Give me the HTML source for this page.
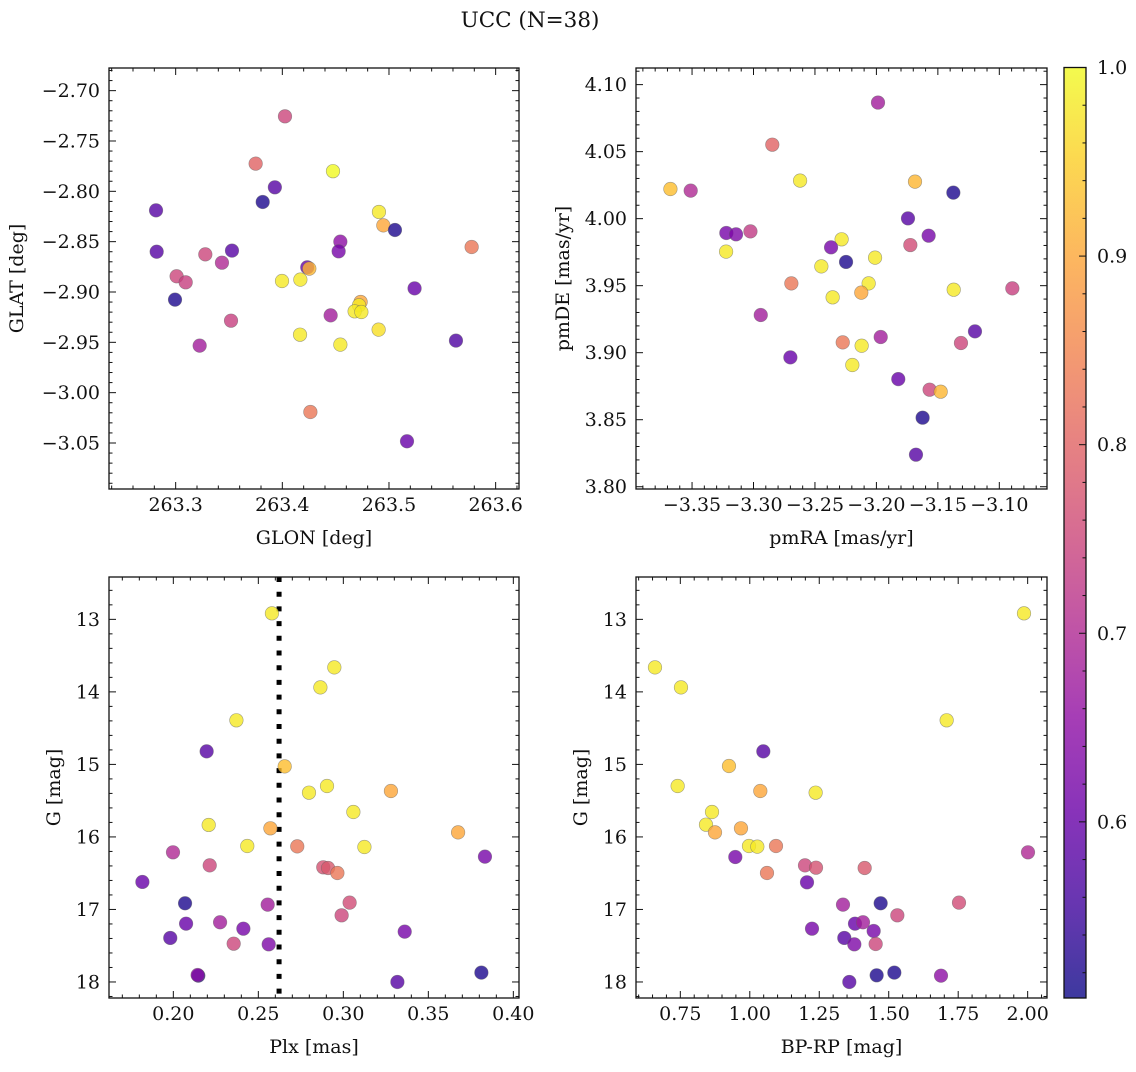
<!DOCTYPE html>
<html><head><meta charset="utf-8"><style>
html,body{margin:0;padding:0;background:#fff;}
svg text{font-family:"DejaVu Serif","Liberation Serif",serif;fill:#111;}
</style></head><body>
<svg id="fig" width="1136" height="1067" viewBox="0 0 1136 1067" xmlns="http://www.w3.org/2000/svg">
<rect width="1136" height="1067" fill="#fff"/>
<text x="530" y="27" font-size="21.5" text-anchor="middle">UCC (N=38)</text>
</svg>
<script>
// Panel 1: GLON vs GLAT
const glon=[263.4025,263.375,263.4475,263.393,263.3816,263.2816,263.4906,263.4947,263.5056,263.5775,263.4544,263.4528,263.2822,263.3278,263.3528,263.3434,263.3009,263.3094,263.2994,263.4234,263.4253,263.3997,263.4169,263.524,263.4734,263.4719,263.4678,263.4741,263.4453,263.3519,263.4903,263.4166,263.3225,263.4544,263.5628,263.4263,263.5169];
const glat=[-2.7255,-2.7725,-2.780,-2.796,-2.8106,-2.8189,-2.8205,-2.8338,-2.8384,-2.8553,-2.850,-2.8596,-2.860,-2.8626,-2.8589,-2.8709,-2.8844,-2.8904,-2.9076,-2.8755,-2.8768,-2.8891,-2.8877,-2.8964,-2.9099,-2.9132,-2.9192,-2.9199,-2.9232,-2.9285,-2.9374,-2.9424,-2.9533,-2.9523,-2.9483,-3.0192,-3.0483];
const prob1=[0.75,0.8,1.0,0.58,0.52,0.58,0.98,0.9,0.52,0.83,0.65,0.62,0.58,0.75,0.58,0.7,0.75,0.74,0.52,0.6,0.92,0.98,0.98,0.6,0.9,0.98,0.98,0.98,0.68,0.74,0.97,0.98,0.68,0.98,0.57,0.83,0.6];
// Panel 2: pmRA vs pmDE
const pmra=[-3.1987,-3.2847,-3.3676,-3.3511,-3.2621,-3.1686,-3.1374,-3.1743,-3.1575,-3.1724,-3.3221,-3.3142,-3.3025,-3.3223,-3.2283,-3.2369,-3.2247,-3.2448,-3.2011,-3.2063,-3.2123,-3.2692,-3.2356,-3.1371,-3.0894,-3.2941,-3.1965,-3.1198,-3.1312,-3.2274,-3.212,-3.27,-3.2196,-3.1822,-3.1567,-3.1477,-3.1624,-3.1678];
const pmde=[4.0866,4.0552,4.0221,4.0209,4.0284,4.0276,4.0194,4.0002,3.9873,3.9803,3.9893,3.9883,3.9905,3.9754,3.9846,3.9786,3.9677,3.9644,3.9709,3.9517,3.9448,3.9517,3.9413,3.9470,3.9480,3.9281,3.9117,3.9159,3.9072,3.9077,3.9052,3.8965,3.8908,3.8803,3.8724,3.8709,3.8515,3.8239];
const prob2=[0.68,0.8,0.93,0.7,0.98,0.92,0.52,0.58,0.62,0.76,0.62,0.63,0.73,0.98,0.98,0.62,0.52,0.98,0.98,0.98,0.9,0.83,0.98,0.98,0.74,0.68,0.68,0.58,0.75,0.83,0.98,0.6,0.98,0.6,0.75,0.92,0.52,0.58];
// Panel 3: Plx vs G
const plx=[0.2580,0.2947,0.2865,0.2371,0.2196,0.2655,0.2904,0.2798,0.328,0.3059,0.2208,0.2571,0.3675,0.2435,0.2729,0.3124,0.1998,0.3833,0.2214,0.2882,0.2910,0.2965,0.1818,0.2069,0.2555,0.3037,0.299,0.2075,0.2275,0.2412,0.3361,0.1982,0.2355,0.2561,0.2147,0.2143,0.3812,0.3318];
const gmag3=[12.917,13.662,13.938,14.392,14.820,15.027,15.298,15.390,15.367,15.656,15.835,15.881,15.937,16.125,16.130,16.139,16.212,16.272,16.392,16.419,16.428,16.497,16.621,16.915,16.934,16.906,17.081,17.196,17.177,17.265,17.306,17.393,17.472,17.481,17.913,17.904,17.871,18.0];
const prob3=[0.98,0.98,0.98,0.98,0.58,0.93,0.98,0.98,0.9,0.98,0.98,0.9,0.9,0.98,0.83,0.98,0.7,0.62,0.75,0.77,0.78,0.83,0.6,0.52,0.68,0.76,0.75,0.6,0.68,0.62,0.62,0.58,0.75,0.63,0.52,0.65,0.52,0.58];
// Panel 4: BP-RP vs G
const bprp=[1.9868,0.6588,0.7524,1.7085,1.0487,0.9251,0.7404,1.237,1.0379,0.864,0.8424,0.9683,0.8748,0.9971,1.0943,1.0271,2.0012,0.9479,1.1987,1.2383,1.4134,1.0619,1.2059,1.471,1.3354,1.7529,1.531,1.3786,1.4074,1.4458,1.2239,1.3402,1.453,1.3762,1.6881,1.5202,1.4566,1.3582];
const gmag4=[12.917,13.662,13.938,14.392,14.820,15.022,15.298,15.390,15.367,15.656,15.831,15.881,15.937,16.125,16.125,16.134,16.212,16.277,16.392,16.424,16.428,16.497,16.626,16.915,16.934,16.906,17.081,17.196,17.177,17.297,17.265,17.393,17.476,17.481,17.913,17.871,17.908,18.0];
const prob4=[0.98,0.98,0.98,0.98,0.58,0.93,0.98,0.98,0.9,0.98,0.98,0.9,0.9,0.98,0.83,0.98,0.7,0.62,0.75,0.77,0.78,0.83,0.6,0.52,0.68,0.76,0.75,0.6,0.68,0.62,0.62,0.58,0.75,0.63,0.65,0.52,0.52,0.58];
const plxLine=[0.2622];
const cbTicks=[0.6,0.7,0.8,0.9,1.0];
const vmin=0.5066, vmax=1.0;

const NS="http://www.w3.org/2000/svg";
const svg=document.getElementById('fig');
const FS=19;
function mk(tag,attrs,parent){const e=document.createElementNS(NS,tag);for(const k in attrs)e.setAttribute(k,attrs[k]);(parent||svg).appendChild(e);return e;}
const stops=[[13,8,135],[65,4,157],[106,0,168],[143,13,164],[177,42,144],[204,71,120],[225,100,98],[242,132,75],[252,166,54],[252,206,37],[240,249,33]];
function plasma(t){t=Math.max(0,Math.min(1,t));const f=t*10,i=Math.min(9,Math.floor(f)),r=f-i;const a=stops[i],b=stops[i+1];return 'rgb('+a.map((v,k)=>Math.round(v+(b[k]-v)*r)).join(',')+')';}
function fmt(v,d){const s=Math.abs(v).toFixed(d);return (v<-1e-9?'\u2212':'')+s;}

function panel(cfg){
  const {x0,x1,y0,y1,xd,yd,inv}=cfg;
  const sx=v=>x0+(v-xd[0])/(xd[1]-xd[0])*(x1-x0);
  const sy=inv? v=>y0+(v-yd[0])/(yd[1]-yd[0])*(y1-y0) : v=>y1-(v-yd[0])/(yd[1]-yd[0])*(y1-y0);
  const g=mk('g',{});
  
  
  const tg=mk('g',{stroke:'#111','stroke-width':1},g);
  function ticksAxis(step,minorN,dom,isX,dec){
    const lo=Math.min(dom[0],dom[1]),hi=Math.max(dom[0],dom[1]);
    const ms=step/minorN;
    const n0=Math.ceil((lo-1e-9)/ms), n1=Math.floor((hi+1e-9)/ms);
    for(let n=n0;n<=n1;n++){
      const v=n*ms;const major=Math.abs(Math.round(v/step)*step-v)<ms*0.01;
      const L=major?7:3.5;
      if(isX){const p=sx(v);if(p<x0-0.5||p>x1+0.5)continue;
        mk('line',{x1:p,x2:p,y1:y1,y2:y1-L},tg);mk('line',{x1:p,x2:p,y1:y0,y2:y0+L},tg);
        if(major){const t=mk('text',{x:p,y:y1+22,'font-size':FS,'text-anchor':'middle'},g);t.textContent=fmt(v,dec);
          
          }
      }else{const p=sy(v);if(p<y0-0.5||p>y1+0.5)continue;
        mk('line',{x1:x0,x2:x0+L,y1:p,y2:p},tg);mk('line',{x1:x1,x2:x1-L,y1:p,y2:p},tg);
        if(major){const t=mk('text',{x:x0-9,y:p+6.5,'font-size':FS,'text-anchor':'end'},g);t.textContent=fmt(v,dec);
          
          }
      }
    }
  }
  ticksAxis(cfg.xstep,5,xd,true,cfg.xdec);
  ticksAxis(cfg.ystep,5,yd,false,cfg.ydec);
  if(cfg.vline){cfg.vline.forEach(v=>{const l=mk('line',{x1:sx(v),x2:sx(v),y1:y0,y2:y1,stroke:'#000','stroke-width':5,'stroke-dasharray':'5,9.7'},g);
    
    });}
  const pg=mk('g',{},g);
  cfg.xs.forEach((xv,i)=>{
    const c=mk('circle',{cx:sx(xv),cy:sy(cfg.ys[i]),r:6.8,fill:plasma((cfg.c[i]-vmin)/(vmax-vmin)),'fill-opacity':0.8,stroke:'#666','stroke-opacity':0.6,'stroke-width':0.6},pg);
    
    
  });
  mk('rect',{x:x0,y:y0,width:x1-x0,height:y1-y0,fill:'none',stroke:'#111','stroke-width':1.3},g);
  const xl=mk('text',{x:(x0+x1)/2,y:y1+55,'font-size':FS,'text-anchor':'middle'},g);xl.textContent=cfg.xlab;
  
  
  const yc=(y0+y1)/2;
  const yl=mk('text',{x:cfg.ylx,y:yc,'font-size':FS,'text-anchor':'middle',transform:'rotate(-90 '+cfg.ylx+' '+yc+')'},g);yl.textContent=cfg.ylab;
  
  
}
panel({name:'glon-glat-panel',x0:109,x1:519,y0:68,y1:489,xd:[263.2375,263.6219],yd:[-3.0957,-2.6775],xstep:0.1,ystep:0.05,xdec:1,ydec:2,xs:glon,ys:glat,c:prob1,xlab:'GLON [deg]',ylab:'GLAT [deg]',ylx:23});
panel({name:'pm-panel',x0:636,x1:1047,y0:68,y1:489,xd:[-3.3956,-3.0612],yd:[3.7983,4.1124],xstep:0.05,ystep:0.05,xdec:2,ydec:2,xs:pmra,ys:pmde,c:prob2,xlab:'pmRA [mas/yr]',ylab:'pmDE [mas/yr]',ylx:569});
panel({name:'plx-g-panel',x0:109,x1:519,y0:577,y1:998,xd:[0.16216,0.40333],yd:[12.416,18.221],inv:true,xstep:0.05,ystep:1,xdec:2,ydec:0,xs:plx,ys:gmag3,c:prob3,xlab:'Plx [mas]',ylab:'G [mag]',ylx:60,vline:plxLine});
panel({name:'cmd-panel',x0:636,x1:1047,y0:577,y1:998,xd:[0.5905,2.0696],yd:[12.416,18.221],inv:true,xstep:0.25,ystep:1,xdec:2,ydec:0,xs:bprp,ys:gmag4,c:prob4,xlab:'BP-RP [mag]',ylab:'G [mag]',ylx:587});

const cb=mk('g',{});


const defs=mk('defs',{},cb);
const lg=mk('linearGradient',{id:'cbg',x1:0,y1:1,x2:0,y2:0},defs);
for(let i=0;i<=20;i++){mk('stop',{offset:i/20,'stop-color':plasma(i/20)},lg);}
const cx0=1064,cx1=1086,cy0=67.5,cy1=998;
mk('rect',{x:cx0,y:cy0,width:cx1-cx0,height:cy1-cy0,fill:'url(#cbg)','fill-opacity':0.8},cb);
const cys=v=>cy1-(v-vmin)/(vmax-vmin)*(cy1-cy0);
for(let n=Math.ceil(vmin/0.02);n<=50;n++){const v=n*0.02,p=cys(v);const major=n%5===0;
  mk('line',{x1:cx1,x2:cx1-(major?7:3.5),y1:p,y2:p,stroke:'#111','stroke-width':1},cb);}
cbTicks.forEach(v=>{const t=mk('text',{x:1097,y:cys(v)+6.5,'font-size':FS},cb);t.textContent=v.toFixed(1);
  
  });
mk('rect',{x:cx0,y:cy0,width:cx1-cx0,height:cy1-cy0,fill:'none',stroke:'#111','stroke-width':1.3},cb);
</script>
</body></html>
